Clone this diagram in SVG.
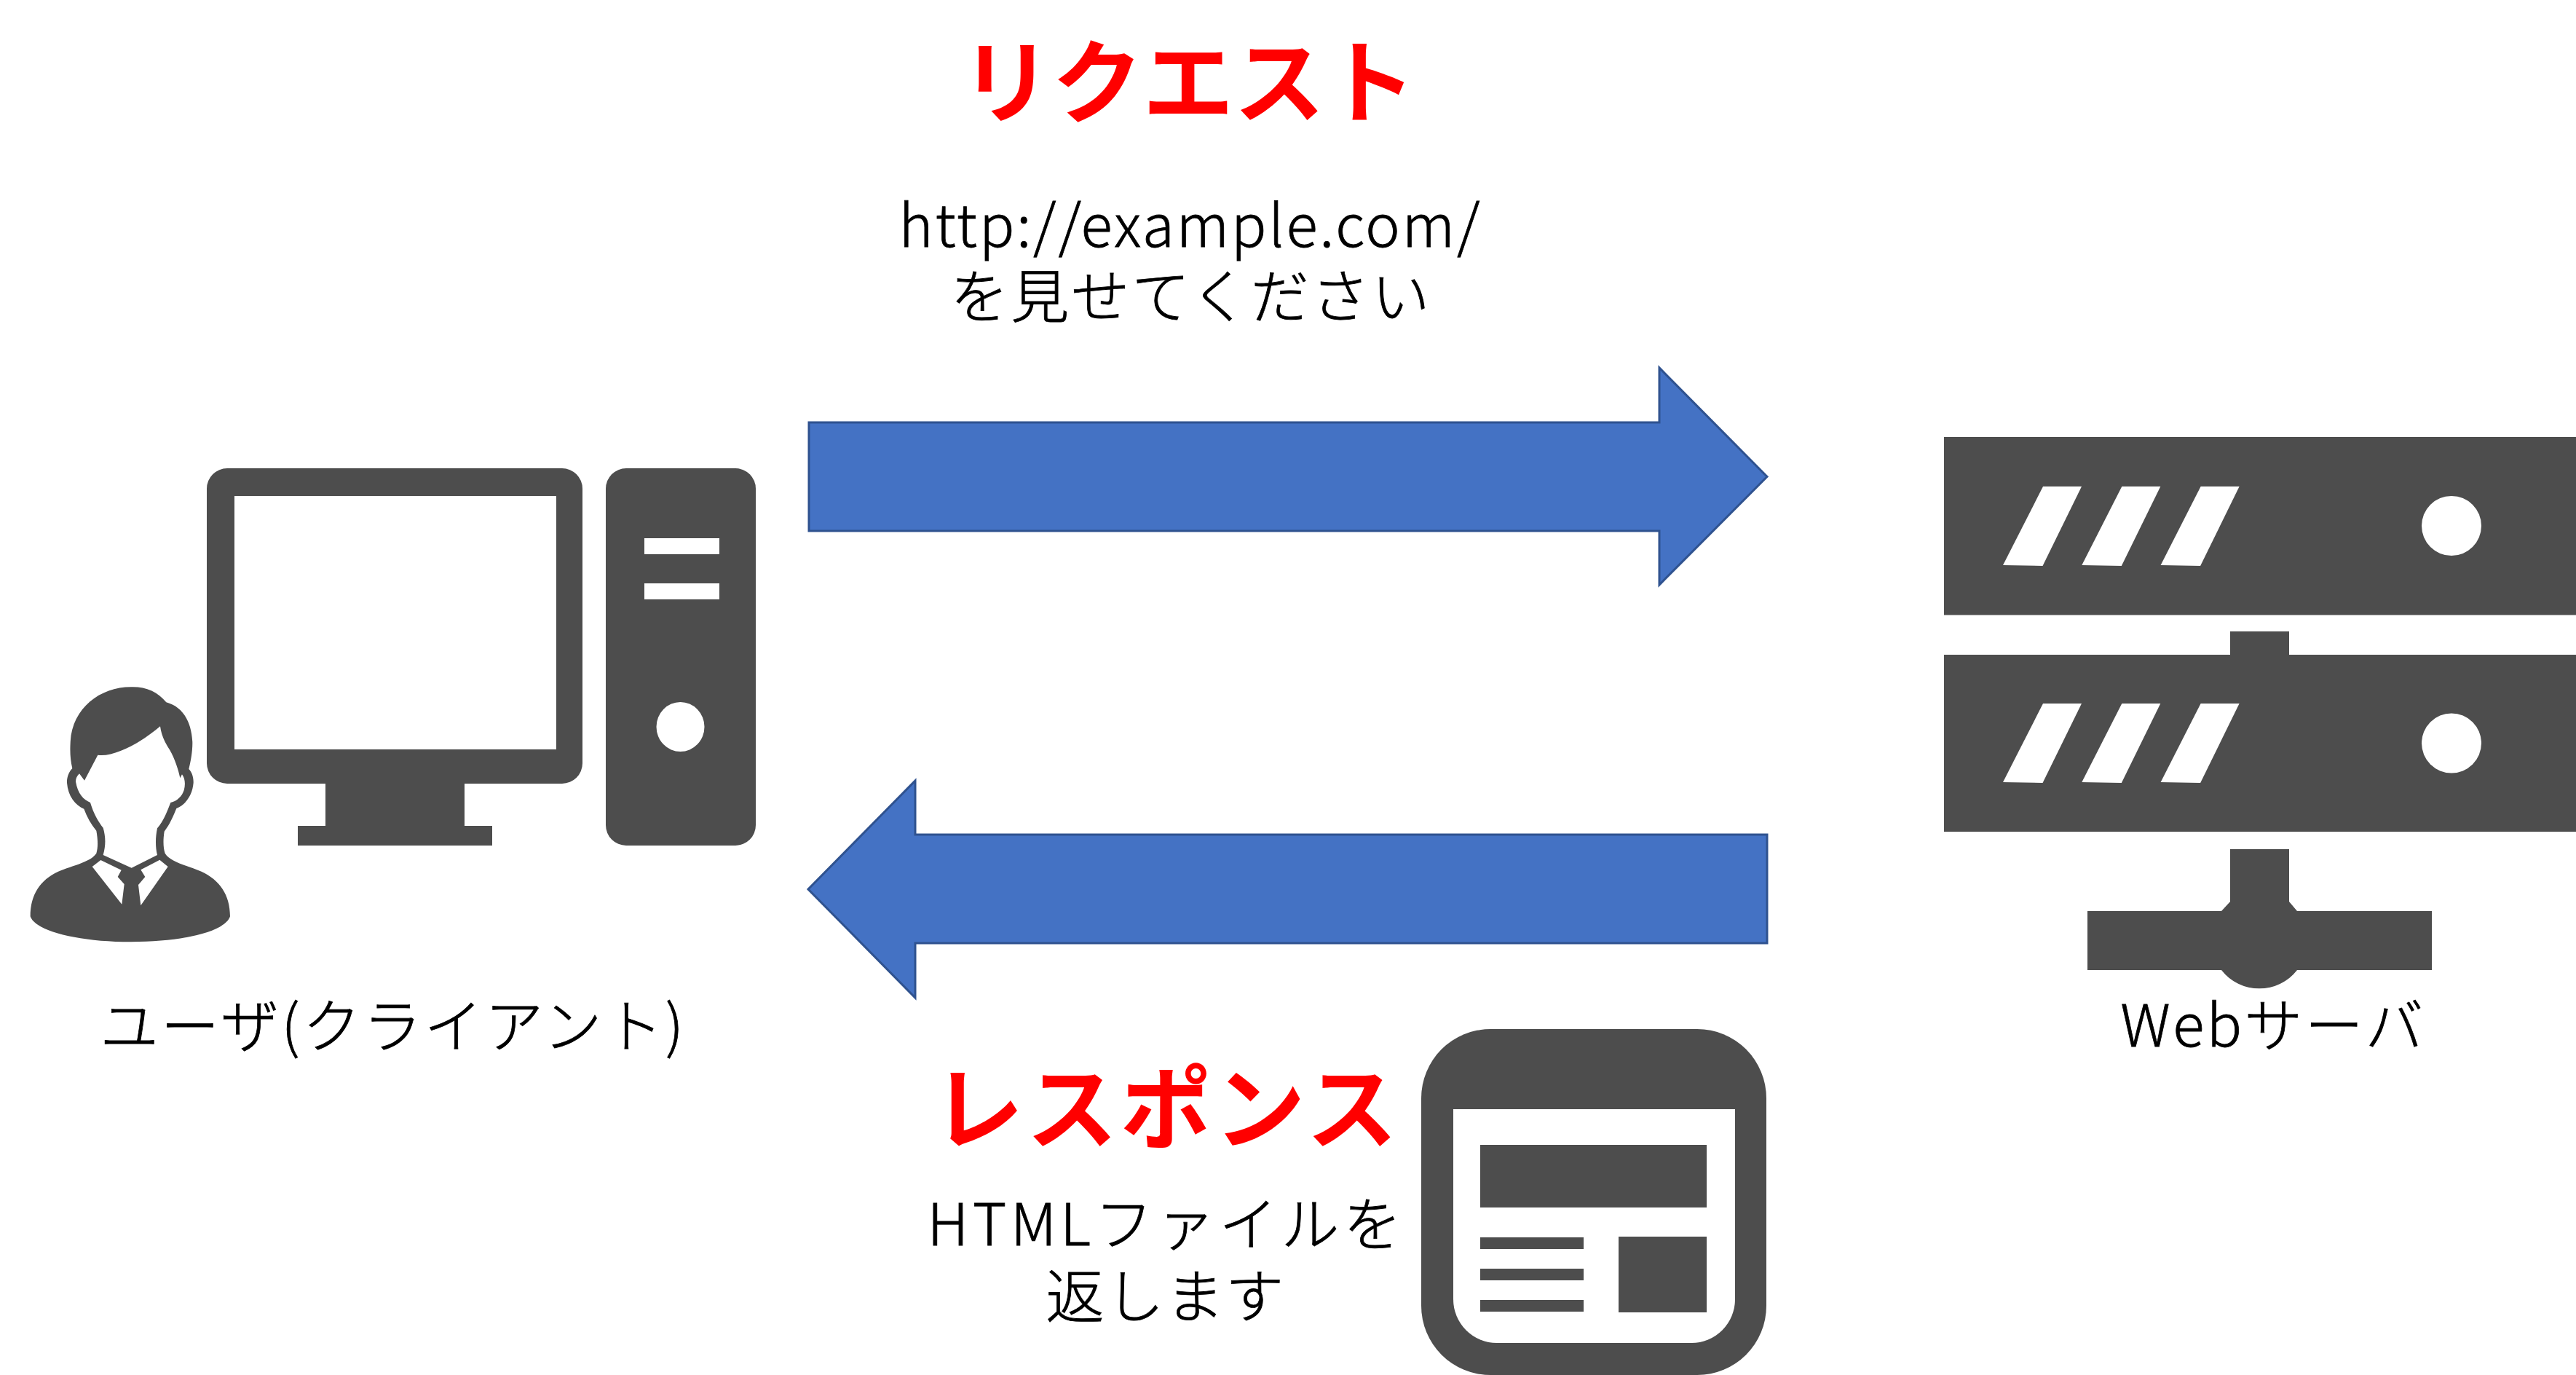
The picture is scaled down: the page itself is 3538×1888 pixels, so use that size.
<svg xmlns="http://www.w3.org/2000/svg" width="3538" height="1888" viewBox="0 0 3538 1888">
<style>
.i{fill:#4d4d4d}
.w{fill:#fff}
.a{fill:#4472c4;stroke:#2f528f;stroke-width:3}
text{font-family:"Noto Sans CJK JP","Noto Sans",sans-serif;font-size:80px;font-weight:300;fill:#000;stroke:#000;stroke-width:.8;text-anchor:middle}
.h{font-size:125px;font-weight:700;fill:#f00;stroke:none}
</style>
<rect width="3538" height="1888" fill="#fff"/>
<g id="connectors">
<path id="request-arrow" class="a" d="M1111 580H2279V505L2427 654.500L2279 803V729H1111Z"/>
<path id="response-arrow" class="a" d="M2427 1146H1257V1072L1110 1221L1257 1370V1295H2427Z"/>
</g>
<g id="pc">
<path class="i" d="M312 643H772A28 28 0 0 1 800 671V1048A28 28 0 0 1 772 1076H638V1134H676V1161H409V1134H447V1076H312A28 28 0 0 1 284 1048V671A28 28 0 0 1 312 643Z"/>
<rect class="w" x="322" y="681" width="442" height="348"/>
<rect class="i" x="832" y="643" width="206" height="518" rx="28"/>
<rect class="w" x="885" y="739" width="103" height="22"/>
<rect class="w" x="885" y="801" width="103" height="22"/>
<ellipse class="w" cx="934.500" cy="998" rx="33" ry="34"/>
</g>
<g id="user" transform="translate(0 900) scale(.33333)">
<path class="i" d="M540 130C600 128 650 150 685 193C750 210 790 270 793 360C793 400 785 440 778 468C790 480 798 500 797 525C793 575 765 615 727 630C715 660 700 695 677 725C672 760 672 790 680 815C700 850 770 865 830 890C905 925 948 985 948 1075C930 1135 760 1180 540 1180C320 1180 145 1135 125 1075C125 985 165 925 240 890C300 865 375 850 397 815C405 790 403 755 397 722C375 695 358 665 346 632C310 617 280 580 276 525C275 500 285 478 298 465C290 430 288 400 290 360C295 220 410 130 540 130Z"/>
<path class="w" d="M403 410C470 420 580 360 660 292C665 330 680 360 700 390C720 425 735 470 742 505L750 490C762 505 765 530 758 555C750 580 730 600 703 606C690 640 675 680 648 712C640 750 640 790 648 822L542 875L425 822C437 780 435 745 425 710C405 685 385 650 372 606C345 595 320 570 312 520C312 505 318 495 327 487L348 515Z"/>
<path class="w" d="M415 843L500 884L485 912L512 942L502 1025L380 870Z"/>
<path class="w" d="M658 842L692 870L580 1030L570 945L598 912L580 883Z"/>
</g>
<g id="server">
<rect class="i" x="2670" y="600" width="868" height="244.500"/>
<path class="i" d="M2670 899H3063V867H3144V899H3538V1142H2670Z"/>
<path class="i" d="M3063 1166H3144V1238L3155 1251H3340V1332H3155A66 66 0 0 1 3051 1332H2867V1251H3051L3063 1238Z"/>
<path class="w" d="M2806 668H2859L2805.500 777L2751 776Z"/>
<path class="w" d="M2914.300 668H2967.300L2913.800 777L2859.300 776Z"/>
<path class="w" d="M3022.600 668H3075.600L3022.100 777L2967.600 776Z"/>
<path class="w" d="M2806 966H2859L2805.500 1075L2751 1074Z"/>
<path class="w" d="M2914.300 966H2967.300L2913.800 1075L2859.300 1074Z"/>
<path class="w" d="M3022.600 966H3075.600L3022.100 1075L2967.600 1074Z"/>
<circle class="w" cx="3367" cy="722" r="41"/>
<circle class="w" cx="3367" cy="1020.500" r="41"/>
</g>
<g id="document">
<rect class="i" x="1952" y="1413" width="474" height="475" rx="95"/>
<path class="w" d="M1996 1523H2383V1784A60 60 0 0 1 2323 1844H2056A60 60 0 0 1 1996 1784Z"/>
<rect class="i" x="2033" y="1572" width="311" height="86"/>
<rect class="i" x="2033" y="1699" width="142" height="16"/>
<rect class="i" x="2033" y="1742" width="142" height="16"/>
<rect class="i" x="2033" y="1785" width="142" height="16"/>
<rect class="i" x="2223" y="1698" width="121" height="104"/>
</g>
<g id="labels">
<text class="h" x="1632" y="159">リクエスト</text>
<text x="1635" y="339" letter-spacing="2.900">http://example.com/</text>
<text x="1636" y="436" letter-spacing="3">を見せてください</text>
<text x="540" y="1438" letter-spacing="3.6">ユーザ(クライアント)</text>
<text x="3122" y="1437" letter-spacing="3.4">Webサーバ</text>
<text class="h" x="1602" y="1568" letter-spacing="4">レスポンス</text>
<text x="1602" y="1710" letter-spacing="5.400">HTMLファイルを</text>
<text x="1601" y="1809" letter-spacing="2.3">返します</text>
</g>
</svg>
